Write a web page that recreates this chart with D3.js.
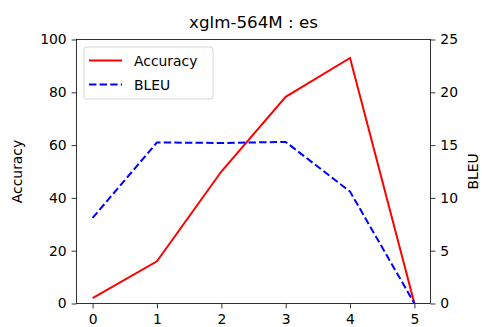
<!DOCTYPE html>
<html>
<head>
<meta charset="utf-8">
<script src="https://cdnjs.cloudflare.com/ajax/libs/d3/7.8.5/d3.min.js"></script>
<style>
  body { margin: 0; background: #fff; }
  svg text { font-family: "DejaVu Sans", sans-serif; fill: #000; }
</style>
</head>
<body>
<svg id="chart" width="482" height="327"></svg>
<script>
'use strict';
let steps = [0, 1, 2, 3, 4, 5];
let accuracy = [2, 16, 50, 78.3, 93, 0];
let bleu = [8.1, 15.25, 15.2, 15.3, 10.6, 0];
let accTicks = [0, 20, 40, 60, 80, 100];
let bleuTicks = [0, 5, 10, 15, 20, 25];

let svg = d3.select("#chart"),
    margin = {top: 39.5, right: 51.5, bottom: 23.5, left: 76.5},
    width = +svg.attr("width"),
    height = +svg.attr("height");

let x = d3.scaleLinear()
    .domain([-0.25, 5.25])
    .range([margin.left, width - margin.right]);
let yL = d3.scaleLinear()
    .domain([0, 100])
    .range([height - margin.bottom, margin.top]);
let yR = d3.scaleLinear()
    .domain([0, 25])
    .range([height - margin.bottom, margin.top]);

function styleAxis(g) {
    g.selectAll("path.domain").remove();
    g.selectAll(".tick line").attr("stroke", "#000").attr("stroke-width", 0.8);
    g.selectAll(".tick text").style("font-size", "13.9px").attr("fill", "#000");
}

svg.append("g")
    .attr("transform", "translate(0," + (height - margin.bottom) + ")")
    .call(d3.axisBottom(x).tickValues(steps).tickSize(4.9).tickPadding(4.9).tickFormat(d3.format("d")))
    .call(styleAxis)
    .selectAll(".tick text").attr("dy", "0.75em");

svg.append("g")
    .attr("transform", "translate(" + margin.left + ",0)")
    .call(d3.axisLeft(yL).tickValues(accTicks).tickSize(4.9).tickPadding(4.9))
    .call(styleAxis);

svg.append("g")
    .attr("transform", "translate(" + (width - margin.right) + ",0)")
    .call(d3.axisRight(yR).tickValues(bleuTicks).tickSize(4.9).tickPadding(4.9))
    .call(styleAxis);

// frame
svg.append("rect")
    .attr("x", margin.left)
    .attr("y", margin.top)
    .attr("width", width - margin.left - margin.right)
    .attr("height", height - margin.top - margin.bottom)
    .attr("fill", "none")
    .attr("stroke", "#000")
    .attr("stroke-width", 0.8);

let lineAcc = d3.line().x((d, i) => x(steps[i])).y(d => yL(d));
let lineBleu = d3.line().x((d, i) => x(steps[i])).y(d => yR(d));

svg.append("path")
    .attr("d", lineAcc(accuracy))
    .attr("fill", "none")
    .attr("stroke", "#ff0000")
    .attr("stroke-width", 2);

svg.append("path")
    .attr("d", lineBleu(bleu))
    .attr("fill", "none")
    .attr("stroke", "#0000ff")
    .attr("stroke-width", 2)
    .attr("stroke-dasharray", "7.4,3.2");

svg.append("text")
    .attr("x", (margin.left + width - margin.right) / 2)
    .attr("y", 28)
    .style("text-anchor", "middle")
    .style("font-size", "16.7px")
    .text("xglm-564M : es");

svg.append("text")
    .attr("transform", "translate(22," + ((margin.top + height - margin.bottom) / 2) + ") rotate(-90)")
    .style("text-anchor", "middle")
    .style("font-size", "13.9px")
    .text("Accuracy");

svg.append("text")
    .attr("transform", "translate(478," + ((margin.top + height - margin.bottom) / 2) + ") rotate(-90)")
    .style("text-anchor", "middle")
    .style("font-size", "13.9px")
    .text("BLEU");

// legend
let legend = svg.append("g");
legend.append("rect")
    .attr("x", 84).attr("y", 47)
    .attr("width", 129).attr("height", 52)
    .attr("rx", 3)
    .attr("fill", "#fff")
    .attr("fill-opacity", 0.8)
    .attr("stroke", "#ccc")
    .attr("stroke-width", 0.8);
let items = [
    {label: "Accuracy", color: "#ff0000", dash: null},
    {label: "BLEU", color: "#0000ff", dash: "7.4,3.2"}
];
items.forEach((it, i) => {
    let yy = 60.5 + i * 24;
    legend.append("line")
        .attr("x1", 89).attr("x2", 122)
        .attr("y1", yy).attr("y2", yy)
        .attr("stroke", it.color)
        .attr("stroke-width", 2)
        .attr("stroke-dasharray", it.dash);
    legend.append("text")
        .attr("x", 134).attr("y", yy + 5)
        .style("font-size", "13.9px")
        .text(it.label);
});
</script>
</body>
</html>
